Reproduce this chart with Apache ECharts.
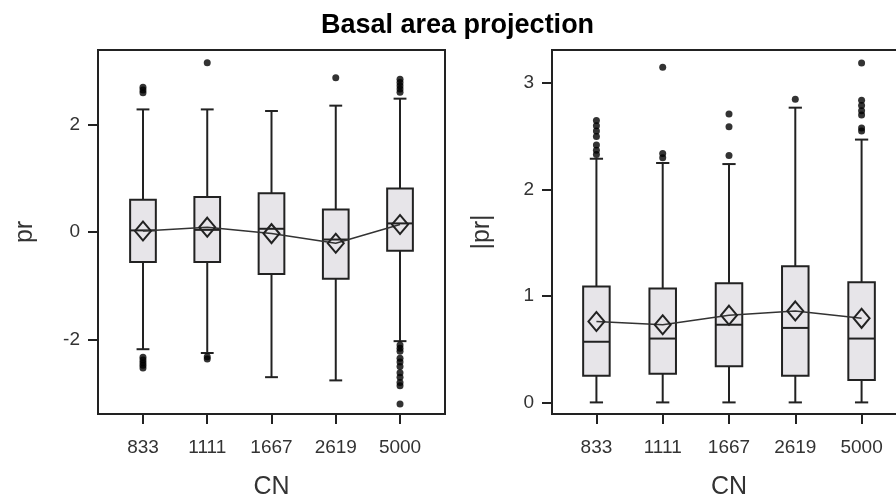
<!DOCTYPE html>
<html>
<head>
<meta charset="utf-8">
<title>Basal area projection</title>
<script src="https://cdn.jsdelivr.net/npm/echarts@6/dist/echarts.min.js"></script>
<style>
  html, body { margin: 0; padding: 0; background: #fff; }
  #chart { width: 896px; height: 497px; }
</style>
</head>
<body>
<div id="chart"></div>
<script>
// CN classes
var categories = ['833', '1111', '1667', '2619', '5000'];

// pr : [lower whisker, Q1, median, Q3, upper whisker]
var prBoxes = [
	[-2.18, -0.56, 0.03, 0.60, 2.28],
	[-2.25, -0.56, 0.04, 0.65, 2.28],
	[-2.70, -0.78, 0.06, 0.72, 2.25],
	[-2.76, -0.87, -0.14, 0.42, 2.35],
	[-2.03, -0.35, 0.16, 0.81, 2.48]
];
var prMeans = [0.02, 0.09, -0.03, -0.21, 0.14];
var prOutliers = [
	[2.69, 2.64, 2.59, -2.33, -2.38, -2.43, -2.48, -2.53],
	[3.15, -2.32, -2.36],
	[],
	[2.87],
	[2.84, 2.78, 2.72, 2.66, 2.60, -2.10, -2.16, -2.22, -2.35, -2.42, -2.50, -2.62, -2.70, -2.80, -2.86, -3.20]
];

// |pr|
var absBoxes = [
	[0, 0.25, 0.57, 1.09, 2.29],
	[0, 0.27, 0.60, 1.07, 2.25],
	[0, 0.34, 0.73, 1.12, 2.24],
	[0, 0.25, 0.70, 1.28, 2.77],
	[0, 0.21, 0.60, 1.13, 2.47]
];
var absMeans = [0.76, 0.73, 0.82, 0.86, 0.79];
var absOutliers = [
	[2.65, 2.60, 2.55, 2.50, 2.42, 2.37, 2.33],
	[3.15, 2.34, 2.30],
	[2.71, 2.59, 2.32],
	[2.85],
	[3.19, 2.84, 2.79, 2.74, 2.70, 2.58, 2.55]
];

var prTicks = [-2, 0, 2];
var absTicks = [0, 1, 2, 3];

var FONT = 'Liberation Sans, Arial, sans-serif';
var INK = '#222';

function boxRows(boxes) {
	return boxes.map(function (b, i) {
		return [i].concat(b);
	});
}

function outlierRows(list) {
	var res = [];
	list.forEach(function (vals, i) {
		vals.forEach(function (v) {
			res.push([i, v]);
		});
	});
	return res;
}

function meanRows(means) {
	return means.map(function (m, i) {
		return [i, m];
	});
}

// 画箱体 + 须
function renderBox(params, api) {
	var x = api.value(0);
	var lo = api.coord([x, api.value(1)]);
	var q1 = api.coord([x, api.value(2)]);
	var md = api.coord([x, api.value(3)]);
	var q3 = api.coord([x, api.value(4)]);
	var hi = api.coord([x, api.value(5)]);
	var bw = api.size([0.4, 0])[0];
	var cw = api.size([0.2, 0])[0];
	var cx = md[0];
	var line = { stroke: INK, lineWidth: 2 };
	return {
		type: 'group',
		children: [
			{ type: 'line', shape: { x1: cx, y1: hi[1], x2: cx, y2: q3[1] }, style: line },
			{ type: 'line', shape: { x1: cx, y1: q1[1], x2: cx, y2: lo[1] }, style: line },
			{ type: 'line', shape: { x1: cx - cw / 2, y1: hi[1], x2: cx + cw / 2, y2: hi[1] }, style: line },
			{ type: 'line', shape: { x1: cx - cw / 2, y1: lo[1], x2: cx + cw / 2, y2: lo[1] }, style: line },
			{
				type: 'rect',
				shape: { x: cx - bw / 2, y: q3[1], width: bw, height: q1[1] - q3[1] },
				style: { fill: '#e7e5e9', stroke: INK, lineWidth: 2 }
			},
			{ type: 'line', shape: { x1: cx - bw / 2, y1: md[1], x2: cx + bw / 2, y2: md[1] }, style: line }
		]
	};
}

function xAxisOf(gridIndex, min, max) {
	return {
		type: 'value',
		gridIndex: gridIndex,
		min: min,
		max: max,
		name: 'CN',
		nameLocation: 'middle',
		nameGap: 61,
		nameTextStyle: { fontFamily: FONT, fontSize: 25, color: '#333' },
		splitLine: { show: false },
		axisLine: { show: true, onZero: false, lineStyle: { color: INK, width: 2 } },
		axisTick: { show: true, length: 10, customValues: [0, 1, 2, 3, 4], lineStyle: { color: INK, width: 2 } },
		axisLabel: {
			customValues: [0, 1, 2, 3, 4],
			margin: 24,
			fontFamily: FONT,
			fontSize: 19,
			color: '#333',
			formatter: function (v) {
				return categories[Math.round(v)];
			}
		}
	};
}

function yAxisOf(gridIndex, min, max, ticks, name, gap) {
	return {
		type: 'value',
		gridIndex: gridIndex,
		min: min,
		max: max,
		name: name,
		nameLocation: 'middle',
		nameGap: gap,
		nameTextStyle: { fontFamily: FONT, fontSize: 25, color: '#333' },
		splitLine: { show: false },
		axisLine: { show: true, onZero: false, lineStyle: { color: INK, width: 2 } },
		axisTick: { show: true, length: 10, customValues: ticks, lineStyle: { color: INK, width: 2 } },
		axisLabel: { customValues: ticks, margin: 18, fontFamily: FONT, fontSize: 19, color: '#333' }
	};
}

function panelSeries(idx, boxes, means, outliers) {
	return [
		{
			type: 'custom',
			xAxisIndex: idx,
			yAxisIndex: idx,
			renderItem: renderBox,
			encode: { x: 0, y: [1, 2, 3, 4, 5] },
			data: boxRows(boxes),
			z: 2
		},
		{
			type: 'line',
			xAxisIndex: idx,
			yAxisIndex: idx,
			data: meanRows(means),
			symbol: 'diamond',
			symbolSize: [16, 19],
			lineStyle: { color: '#333', width: 1.5 },
			itemStyle: { color: 'rgba(0,0,0,0)', borderColor: INK, borderWidth: 2 },
			z: 3
		},
		{
			type: 'scatter',
			xAxisIndex: idx,
			yAxisIndex: idx,
			data: outlierRows(outliers),
			symbol: 'circle',
			symbolSize: 7,
			itemStyle: { color: '#000' },
			z: 4
		}
	];
}

var myChart = echarts.init(document.getElementById('chart'), null, { renderer: 'canvas' });

var option = {
	backgroundColor: '#fff',
	animation: false,
	title: {
		text: 'Basal area projection',
		left: 316,
		top: 7,
		textStyle: { fontFamily: FONT, fontSize: 27, fontWeight: 'bold', color: '#000' }
	},
	grid: [
		{ left: 98, top: 50, width: 347, height: 364, show: true, borderColor: INK, borderWidth: 2, outerBoundsMode: 'none' },
		{ left: 552, top: 50, width: 354, height: 364, show: true, borderColor: INK, borderWidth: 2, outerBoundsMode: 'none' }
	],
	xAxis: [
		xAxisOf(0, -0.7, 4.7),
		xAxisOf(1, -0.67, 4.67)
	],
	yAxis: [
		yAxisOf(0, -3.385, 3.385, prTicks, 'pr', 60),
		yAxisOf(1, -0.109, 3.312, absTicks, '|pr|', 57)
	],
	series: panelSeries(0, prBoxes, prMeans, prOutliers)
		.concat(panelSeries(1, absBoxes, absMeans, absOutliers))
};

myChart.setOption(option);
</script>
</body>
</html>
